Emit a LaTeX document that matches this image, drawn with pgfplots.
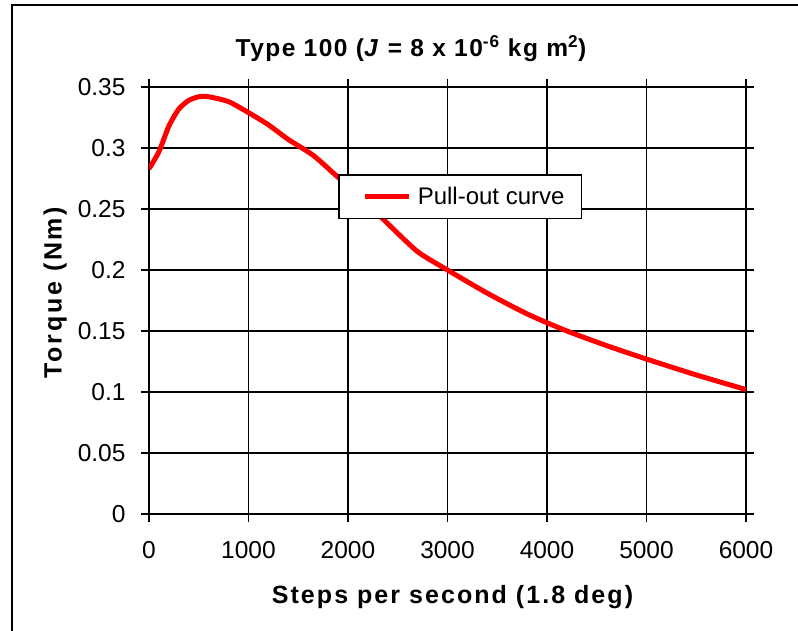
\documentclass[border=0pt]{standalone}
\usepackage{pgfplots}
\pgfplotsset{compat=1.18}
\usepackage{fontspec}
\setmainfont{Liberation Sans}
\begin{document}
\begin{tikzpicture}[x=1pt,y=1pt]
\useasboundingbox (0,0) rectangle (798,630);
\draw[line width=2pt] (12,-5) -- (12,625) -- (810,625);
\begin{axis}[
  at={(149pt,116pt)}, anchor=south west,
  scale only axis, width=597pt, height=427pt,
  xmin=0, xmax=6000, ymin=0, ymax=0.35,
  xtick={0,1000,...,6000}, ytick={0,0.05,...,0.35},
  scaled x ticks=false, scaled y ticks=false,
  xticklabel style={/pgf/number format/1000 sep={}, /pgf/number format/fixed, yshift=-16pt},
  yticklabel style={/pgf/number format/fixed, /pgf/number format/precision=2, xshift=-12pt},
  /pgf/number format/assume math mode=true,
  tick label style={font=\fontsize{24.5}{28}\selectfont},
  tick align=outside, major tick length=8pt,
  tick style={black, line width=1.5pt},
  axis line style={black, line width=1.5pt},
  grid=major, major grid style={black, line width=1.5pt},
  legend style={at={(0.3166,0.796)}, anchor=north west, draw=black, line width=1.5pt, fill=white,
    font=\fontsize{24}{28}\selectfont, inner xsep=24pt, inner ysep=10.5pt, legend cell align=left},
  legend image code/.code={\draw[#1, line width=5pt] (0pt,0pt) -- (44pt,0pt);},
]
\addplot[red, line width=5pt, smooth, tension=0.4] coordinates {
(0,0.283) (100,0.297) (200,0.318) (300,0.332) (400,0.339) (500,0.342) (600,0.342)
(800,0.338) (1000,0.329) (1200,0.319) (1400,0.307) (1650,0.294) (1900,0.276)
(2100,0.262) (2400,0.238) (2700,0.215) (3000,0.200) (3400,0.181) (3800,0.164)
(4200,0.150) (4600,0.138) (5000,0.127) (5500,0.114) (6000,0.102)
};
\addlegendentry{\hspace*{4pt}Pull-out curve\hspace*{-9pt}}
\end{axis}
\node[anchor=base, font=\fontsize{24.5}{28}\selectfont\bfseries\addfontfeatures{LetterSpace=6}] at (411,573.3) {Type 100 (\textit{J} = 8 x 10\textsuperscript{-6} kg m\textsuperscript{2})};
\node[anchor=base, font=\fontsize{25}{28}\selectfont\bfseries\addfontfeatures{LetterSpace=11}, rotate=90] at (61.7,337.5) {Torque (Nm)};
\node[anchor=base, font=\fontsize{25}{28}\selectfont\bfseries\addfontfeatures{LetterSpace=8.2}] at (452.5,26.7) {Steps per second (1.8 deg)};
\end{tikzpicture}
\end{document}
